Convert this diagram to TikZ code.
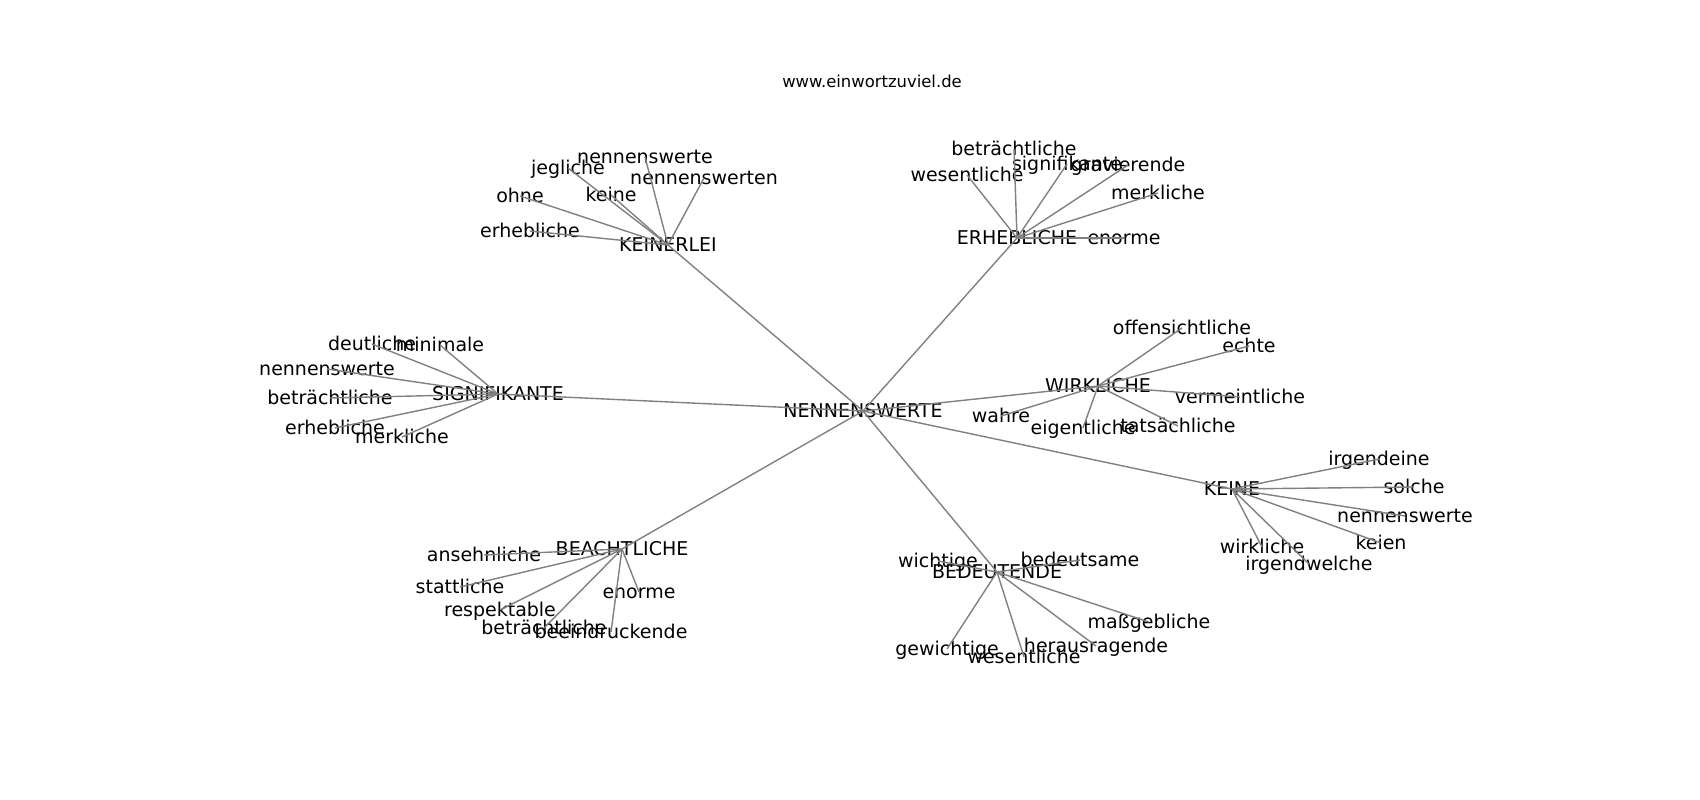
\documentclass[tikz,border=0pt]{standalone}
\usepackage{fontspec}
\setmainfont{DejaVu Sans}
\begin{document}
\begin{tikzpicture}[x=0.01cm,y=-0.01cm,
  lbl/.style={inner sep=0pt,anchor=center,text height=0.68em,text depth=0.32em,font=\fontsize{5.4pt}{6pt}\selectfont,text=black},
  ttl/.style={inner sep=0pt,anchor=center,text height=0.76em,text depth=0.24em,font=\fontsize{4.67pt}{5.5pt}\selectfont},
  edge/.style={draw=gray,line width=0.014cm}]
\useasboundingbox (0,0) rectangle (1700,800);
\node[ttl] (title) at (872,78) {www.einwortzuviel.de};
% hubs
\node[lbl] (N) at (863,411) {NENNENSWERTE};
\node[lbl] (K1) at (668,245) {KEINERLEI};
\node[lbl] (E) at (1017,238) {ERHEBLICHE};
\node[lbl] (S) at (498,394) {SIGNIFIKANTE};
\node[lbl] (W) at (1098,386) {WIRKLICHE};
\node[lbl] (KE) at (1232,489) {KEINE};
\node[lbl] (B) at (622,549) {BEACHTLICHE};
\node[lbl] (BD) at (997,572) {BEDEUTENDE};
% KEINERLEI leaves
\node[lbl] (k1a) at (645,157) {nennenswerte};
\node[lbl] (k1b) at (568,168) {jegliche};
\node[lbl] (k1c) at (704,178) {nennenswerten};
\node[lbl] (k1d) at (520,196) {ohne};
\node[lbl] (k1e) at (611,195) {keine};
\node[lbl] (k1f) at (530,231) {erhebliche};
% ERHEBLICHE leaves
\node[lbl] (ea) at (1014,149) {beträchtliche};
\node[lbl] (eb) at (967,175) {wesentliche};
\node[lbl] (ec) at (1067,164) {signifikante};
\node[lbl] (ed) at (1128,165) {gravierende};
\node[lbl] (ee) at (1158,193) {merkliche};
\node[lbl] (ef) at (1124,238) {enorme};
% SIGNIFIKANTE leaves
\node[lbl] (sa) at (372,344) {deutliche};
\node[lbl] (sb) at (440,345) {minimale};
\node[lbl] (sc) at (327,369) {nennenswerte};
\node[lbl] (sd) at (330,398) {beträchtliche};
\node[lbl] (se) at (335,428) {erhebliche};
\node[lbl] (sf) at (402,437) {merkliche};
% WIRKLICHE leaves
\node[lbl] (wa) at (1182,328) {offensichtliche};
\node[lbl] (wb) at (1249,346) {echte};
\node[lbl] (wc) at (1240,397) {vermeintliche};
\node[lbl] (wd) at (1001,416) {wahre};
\node[lbl] (we) at (1083,428) {eigentliche};
\node[lbl] (wf) at (1178,426) {tatsächliche};
% KEINE leaves
\node[lbl] (ka) at (1379,459) {irgendeine};
\node[lbl] (kb) at (1414,487) {solche};
\node[lbl] (kc) at (1405,516) {nennenswerte};
\node[lbl] (kd) at (1381,543) {keien};
\node[lbl] (ke) at (1262,547) {wirkliche};
\node[lbl] (kf) at (1309,564) {irgendwelche};
% BEACHTLICHE leaves
\node[lbl] (ba) at (484,555) {ansehnliche};
\node[lbl] (bb) at (460,587) {stattliche};
\node[lbl] (bc) at (639,592) {enorme};
\node[lbl] (bd) at (500,610) {respektable};
\node[lbl] (be) at (544,628) {beträchtliche};
\node[lbl] (bf) at (611,632) {beeindruckende};
% BEDEUTENDE leaves
\node[lbl] (da) at (938,561) {wichtige};
\node[lbl] (db) at (1080,560) {bedeutsame};
\node[lbl] (dc) at (1149,622) {maßgebliche};
\node[lbl] (dd) at (1096,646) {herausragende};
\node[lbl] (de) at (947,649) {gewichtige};
\node[lbl] (df) at (1024,657) {wesentliche};
% edges
\foreach \h in {K1,E,S,W,KE,B,BD} {\draw[edge] (N.center) -- (\h.center);}
\foreach \l in {k1a,k1b,k1c,k1d,k1e,k1f} {\draw[edge] (K1.center) -- (\l.center);}
\foreach \l in {ea,eb,ec,ed,ee,ef} {\draw[edge] (E.center) -- (\l.center);}
\foreach \l in {sa,sb,sc,sd,se,sf} {\draw[edge] (S.center) -- (\l.center);}
\foreach \l in {wa,wb,wc,wd,we,wf} {\draw[edge] (W.center) -- (\l.center);}
\foreach \l in {ka,kb,kc,kd,ke,kf} {\draw[edge] (KE.center) -- (\l.center);}
\foreach \l in {ba,bb,bc,bd,be,bf} {\draw[edge] (B.center) -- (\l.center);}
\foreach \l in {da,db,dc,dd,de,df} {\draw[edge] (BD.center) -- (\l.center);}
\end{tikzpicture}
\end{document}
